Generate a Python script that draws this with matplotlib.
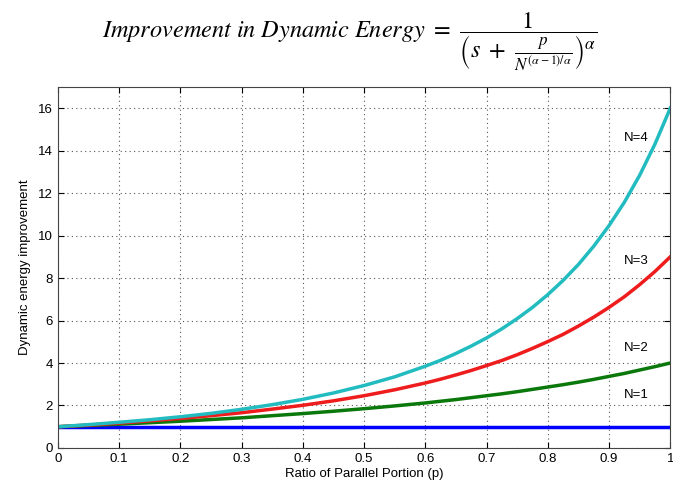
import numpy as np
import matplotlib
matplotlib.use('Agg')
import matplotlib.pyplot as plt

# values (finer steps where the curves bend)
p = [0.0, 0.05, 0.1, 0.15, 0.2, 0.25, 0.3, 0.35, 0.4, 0.45, 0.5,
     0.55, 0.6, 0.625, 0.65, 0.675, 0.7, 0.725, 0.75, 0.775, 0.8,
     0.825, 0.85, 0.875, 0.9, 0.925, 0.95, 0.975, 1.0]
n1 = [1.0] * 29
n2 = [1.00, 1.06, 1.12, 1.19, 1.26, 1.34, 1.42, 1.52, 1.62, 1.73, 1.85,
      1.98, 2.12, 2.20, 2.28, 2.37, 2.46, 2.55, 2.65, 2.76, 2.87,
      2.98, 3.10, 3.23, 3.37, 3.51, 3.67, 3.83, 4.00]
n3 = [1.00, 1.08, 1.17, 1.28, 1.39, 1.52, 1.66, 1.83, 2.01, 2.22, 2.46,
      2.74, 3.06, 3.24, 3.44, 3.65, 3.88, 4.12, 4.39, 4.69, 5.01,
      5.35, 5.74, 6.16, 6.62, 7.12, 7.69, 8.31, 9.00]
n4 = [1.00, 1.10, 1.21, 1.33, 1.47, 1.63, 1.82, 2.04, 2.29, 2.59, 2.94,
      3.35, 3.85, 4.13, 4.45, 4.80, 5.18, 5.61, 6.09, 6.62, 7.22,
      7.89, 8.64, 9.50, 10.47, 11.57, 12.84, 14.31, 16.00]

labels = ['N=1', 'N=2', 'N=3', 'N=4']
label_pos = [(0.945, 2.5), (0.945, 4.7), (0.945, 8.8), (0.945, 14.6)]
colors = ['#0000ff', '#0a780a', '#ee1c1c', '#22bcc0']

plt.rcParams['font.family'] = ['Liberation Sans', 'DejaVu Sans']
plt.rcParams['mathtext.fontset'] = 'stix'

fig = plt.figure(figsize=(6.73, 4.88), dpi=100)
ax = fig.add_axes([0.086, 0.082, 0.91, 0.74])

for ys, c in zip([n1, n2, n3, n4], colors):
    ax.plot(p, ys, color=c, lw=2.5)

for lab, (x, y) in zip(labels, label_pos):
    ax.text(x, y, lab, ha='center', va='center', fontsize=9.5,
            bbox=dict(facecolor='white', edgecolor='none', pad=0.5))

ax.set_xlim(0, 1)
ax.set_ylim(0, 17)
ax.set_xticks(np.arange(0, 1.01, 0.1))
ax.set_xticklabels(['0', '0.1', '0.2', '0.3', '0.4', '0.5', '0.6', '0.7', '0.8', '0.9', '1'])
ax.set_yticks(range(0, 17, 2))
ax.tick_params(direction='in', labelsize=9.5, top=True, right=True, length=4)
ax.grid(True, linestyle=(0, (1, 3)), color='#555555', lw=0.8)
for s in ax.spines.values():
    s.set_color('#444444')

ax.set_xlabel('Ratio of Parallel Portion (p)', fontsize=9.5, labelpad=2)
ax.set_ylabel('Dynamic energy improvement', fontsize=9.5, labelpad=5)

fig.text(0.52, 0.915,
         r'$\mathit{Improvement\ in\ Dynamic\ Energy}\ =\ \dfrac{1}{\left(s\ +\ \frac{p}{N^{(\alpha-1)/\alpha}}\right)^{\alpha}}$',
         ha='center', va='center', fontsize=17.5)

fig.savefig('out.png', dpi=100)
